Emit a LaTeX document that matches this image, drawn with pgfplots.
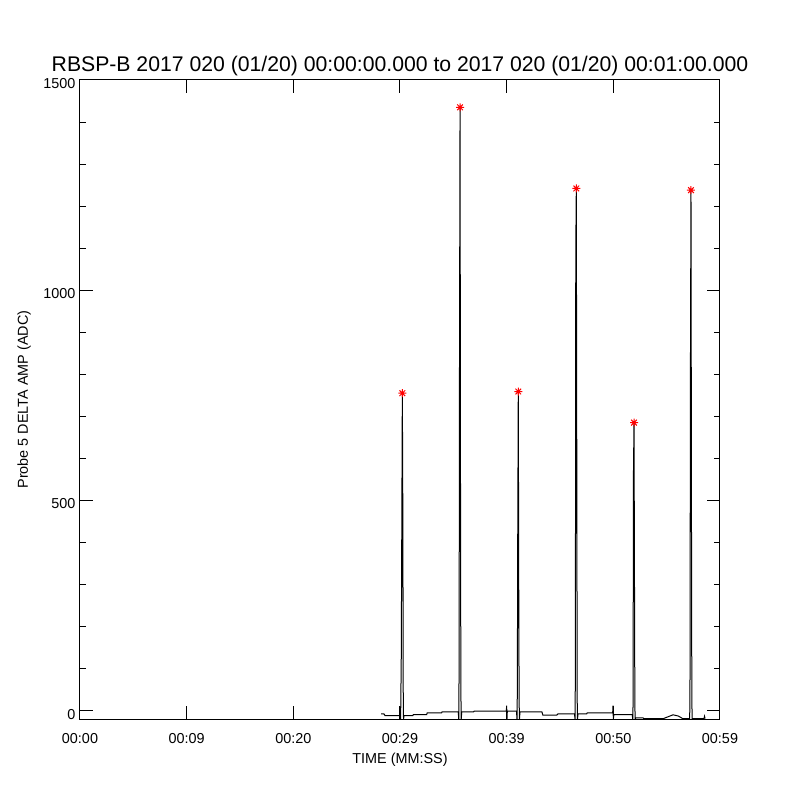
\documentclass[border=0pt]{standalone}
\usepackage{fontspec}
\setmainfont{Liberation Sans}
\usepackage{pgfplots}
\pgfplotsset{compat=1.18}

% IDL psym=2 style asterisk: eight arms
\pgfdeclareplotmark{idlstar}{%
  \pgfpathmoveto{\pgfqpoint{-\pgfplotmarksize}{0pt}}%
  \pgfpathlineto{\pgfqpoint{\pgfplotmarksize}{0pt}}%
  \pgfpathmoveto{\pgfqpoint{0pt}{-\pgfplotmarksize}}%
  \pgfpathlineto{\pgfqpoint{0pt}{\pgfplotmarksize}}%
  \pgfpathmoveto{\pgfqpoint{-0.7071\pgfplotmarksize}{-0.7071\pgfplotmarksize}}%
  \pgfpathlineto{\pgfqpoint{0.7071\pgfplotmarksize}{0.7071\pgfplotmarksize}}%
  \pgfpathmoveto{\pgfqpoint{-0.7071\pgfplotmarksize}{0.7071\pgfplotmarksize}}%
  \pgfpathlineto{\pgfqpoint{0.7071\pgfplotmarksize}{-0.7071\pgfplotmarksize}}%
  \pgfusepathqstroke}

\begin{document}
\begin{tikzpicture}[x=0.75pt,y=0.75pt]
\path[use as bounding box] (-80,-81) rectangle (720,719);
\begin{axis}[
  at={(0,0)}, anchor=south west, scale only axis,
  width=480pt, height=479.25pt,
  xmin=0, xmax=60, ymin=-20, ymax=1500,
  xtick={0,10,20,30,40,50,60},
  xticklabels={00:00,00:09,00:20,00:29,00:39,00:50,00:59},
  ytick={0,500,1000,1500}, minor y tick num=4,
  tick align=inside, major tick length=9.75pt, minor tick length=4.5pt,
  tick style={black, line width=0.75pt},
  axis line style={line width=0.75pt},
  /pgf/number format/assume math mode=true,
  /pgf/number format/1000 sep={},
  ticklabel style={font=\fontsize{10.8}{12}\selectfont},
  xticklabel style={anchor=base, yshift=-18pt},
  yticklabel style={anchor=east, yshift=-2.6pt},
  title={RBSP-B 2017 020 (01/20) 00:00:00.000 to 2017 020 (01/20) 00:01:00.000},
  title style={font=\fontsize{15.9}{18}\selectfont, at={(axis description cs:0.5,1)}, anchor=base, yshift=0.5pt},
  xlabel={TIME (MM:SS)},
  xlabel style={font=\fontsize{10.8}{12}\selectfont, at={(axis description cs:0.5,0)}, anchor=base, yshift=-33pt},
  ylabel={Probe 5 DELTA AMP (ADC)},
  ylabel style={font=\fontsize{10.8}{12}\selectfont, at={(axis description cs:-0.0813,0.5)}, anchor=base},
]
% delta amplitude trace
\addplot[black, line width=0.75pt] coordinates {
 (28.22,-8) (28.50,-8) (28.60,-12) (29.95,-12)
 (30.00,-20) (30.03,10) (30.06,-20) (30.12,129) (30.17,442) (30.22,755) (30.27,442) (30.30,55) (30.33,-20) (30.38,-12)
 (31.20,-12) (31.25,-9.5) (32.50,-9.5) (32.55,-5.5) (33.90,-5.5) (33.95,-3) (35.46,-3)
 (35.51,-20) (35.54,97) (35.58,846) (35.63,1435) (35.68,375) (35.71,40) (35.74,-20) (35.79,-3)
 (36.90,-3) (36.95,-1.5) (39.97,-1.5) (40.00,12) (40.03,-20) (40.06,-1.5)
 (40.92,-1.5) (40.97,-20) (41.00,43) (41.04,426) (41.09,759) (41.14,212) (41.17,20) (41.20,-20) (41.25,-3)
 (43.30,-3) (43.40,-11) (44.70,-11) (44.80,-8) (46.36,-8)
 (46.41,-20) (46.44,78) (46.48,1096) (46.53,1242) (46.58,509) (46.61,30) (46.64,-20) (46.69,-8)
 (47.50,-8) (47.55,-5.5) (49.94,-5.5) (49.97,12) (50.00,-20) (50.05,-9.5)
 (51.77,-9.5) (51.82,-20) (51.85,14) (51.89,569) (51.94,685) (51.99,248) (52.02,10) (52.05,-20) (52.10,-17.5)
 (52.80,-17.5) (52.85,-19) (54.70,-19) (55.20,-14) (55.60,-10) (56.10,-13) (56.50,-19) (57.11,-19)
 (57.16,-20) (57.19,80) (57.23,811) (57.28,1238) (57.33,400) (57.36,30) (57.39,-20) (57.44,-19)
 (58.50,-19) (58.55,-13.5) (58.60,-19)
};
% peak markers
\addplot[only marks, mark=idlstar, mark size=3pt, red, mark options={line width=0.75pt}] coordinates {
 (30.22,755) (35.63,1435) (41.09,759) (46.53,1242) (51.94,685) (57.28,1238)
};
\end{axis}
\end{tikzpicture}
\end{document}
